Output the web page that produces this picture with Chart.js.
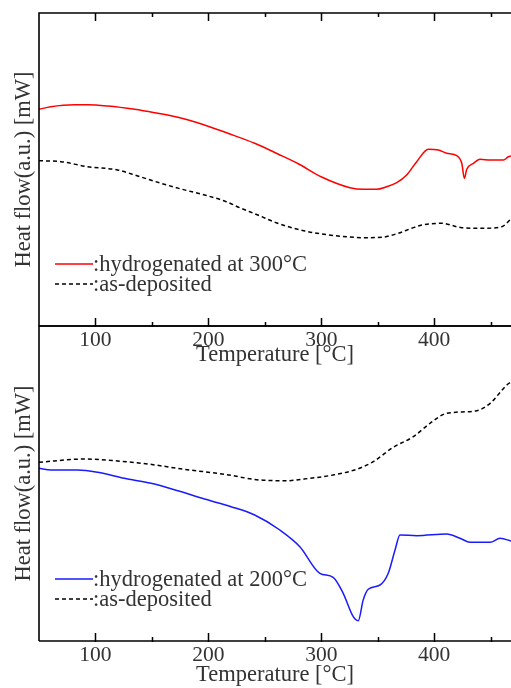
<!DOCTYPE html>
<html><head><meta charset="utf-8">
<script src="https://cdn.jsdelivr.net/npm/chart.js@4.4.1/dist/chart.umd.min.js"></script>
<style>
html,body{margin:0;padding:0;background:#fff;overflow:hidden;width:511px;height:688px}
.c{position:absolute;left:0;top:0;width:511px;height:688px}
</style></head>
<body>
<div class="c"><canvas id="topChart"></canvas></div>
<div class="c"><canvas id="botChart"></canvas></div>
<script>
// ---- data (temperature in °C, heat flow in arbitrary units) ----
const xTicks = [100, 200, 300, 400];
const xMinorTicks = [150, 250, 350, 450];

const topHydLabel = 'hydrogenated at 300°C';
const topHydT = [50,60.5,81.3,93.1,111,134.6,152.3,173,196.6,217.3,241,261.6,280,300.3,325.4,337.1,349,357.9,366.8,375.6,384.5,394.8,403.6,411.1,420,424.4,426.7,428.8,434.7,440.6,449.5,461.3,465.7,468];
const topHydV = [21.67,21.93,22.13,22.13,22.0,21.67,21.33,20.87,20.1,19.27,18.27,17.2,16.2,14.9,13.83,13.67,13.67,13.93,14.33,15.1,16.43,17.67,17.6,17.27,17.03,16.27,14.77,15.67,16.27,16.67,16.6,16.6,16.93,17.0];

const topAsLabel = 'as-deposited';
const topAsT = [50,69.4,93.1,119.7,137.4,158.1,175.8,196.6,214.3,229,243.8,260,285.5,314.8,338.7,353.5,368,380,389,406.7,424.4,442.1,459.8,468];
const topAsV = [16.53,16.43,15.93,15.6,15.0,14.27,13.7,13.1,12.5,11.77,11.1,10.33,9.5,9.0,8.83,8.87,9.27,9.77,10.1,10.27,9.83,9.77,9.93,10.7];

const botHydLabel = 'hydrogenated at 200°C';
const botHydT = [50,60.5,84.2,102,125.6,149.2,173,196.6,220.1,241,263.3,281,298.7,310.5,319.4,328.3,332.7,337.1,341.6,352,359.3,365.3,369.7,384.5,411.1,422.9,431.8,449.5,458.4,468];
const botHydV = [17.27,17.1,17.1,16.87,16.27,15.77,15.03,14.2,13.43,12.6,11.1,9.43,6.77,6.37,4.77,2.43,2.03,4.1,5.17,5.6,6.77,9.1,10.6,10.53,10.7,10.27,9.87,9.87,10.27,10.0];

const botAsLabel = 'as-deposited';
const botAsT = [50,90.2,119.7,146.3,178.8,214.3,245.6,269.2,289.9,310.5,331.3,346,363.7,381.5,396.3,411.1,437.7,449.5,464.3,468];
const botAsV = [17.87,18.2,18.0,17.7,17.17,16.67,16.1,16.03,16.27,16.6,17.17,17.93,19.37,20.43,21.77,22.77,23.03,23.77,25.6,25.9];

const xTitle = 'Temperature [°C]';
const yTitle = 'Heat flow(a.u.) [mW]';

// ---- helpers ----
const pts = (T, V) => T.map((t, i) => ({x: t, y: V[i]}));
const FONT = 'Liberation Serif, Times New Roman, serif';
const TXT = '#333';

const framePlugin = {
  id: 'frame',
  afterDraw(chart, args, opts) {
    const {ctx, chartArea: a, scales: {x}} = chart;
    ctx.save();
    ctx.strokeStyle = '#000';
    ctx.lineWidth = 1.6;
    ctx.beginPath();
    ctx.moveTo(a.left, a.bottom); ctx.lineTo(a.left, a.top); ctx.lineTo(a.right + 5, a.top);
    ctx.moveTo(a.left, a.bottom); ctx.lineTo(a.right + 5, a.bottom);
    ctx.stroke();
    ctx.lineWidth = 1.5;
    ctx.beginPath();
    const mark = (vals, len) => vals.forEach(v => {
      const px = Math.round(x.getPixelForValue(v)) + 0.5;
      if (opts.topTicks) { ctx.moveTo(px, a.top); ctx.lineTo(px, a.top + len); }
      ctx.moveTo(px, a.bottom + 1); ctx.lineTo(px, a.bottom - len);
    });
    mark(xTicks, 8);
    mark(xMinorTicks, 4);
    ctx.stroke();
    ctx.restore();
  }
};

const legendPlugin = {
  id: 'innerLegend',
  afterDraw(chart, args, opts) {
    const {ctx, chartArea: a} = chart;
    ctx.save();
    chart.data.datasets.forEach((ds, i) => {
      const y = a.bottom + opts.rows[i];
      ctx.beginPath();
      ctx.strokeStyle = ds.borderColor;
      ctx.lineWidth = ds.borderWidth;
      ctx.setLineDash(ds.borderDash || []);
      ctx.moveTo(opts.x0, y); ctx.lineTo(opts.x1, y);
      ctx.stroke();
      ctx.setLineDash([]);
      ctx.fillStyle = TXT;
      ctx.font = '22.5px ' + FONT;
      ctx.textBaseline = 'middle';
      ctx.textAlign = 'left';
      ctx.fillText(':' + ds.label, opts.x1, y + 1);
    });
    ctx.restore();
  }
};

function makeChart(id, datasets, padTop, padBottom, yMax, titlePadBottom, topTicks) {
  return new Chart(document.getElementById(id), {
    type: 'line',
    data: {datasets},
    options: {
      responsive: true, maintainAspectRatio: false, animation: false,
      layout: {padding: {top: padTop, bottom: padBottom, left: 0, right: 0}},
      elements: {point: {radius: 0}, line: {cubicInterpolationMode: 'monotone'}},
      plugins: {
        legend: {display: false}, tooltip: {enabled: false},
        frame: {topTicks},
        innerLegend: {x0: 55, x1: 93, rows: [-62, -42]}
      },
      scales: {
        x: {
          type: 'linear', min: 50, max: 468,
          afterBuildTicks: s => { s.ticks = xTicks.map(v => ({value: v})); },
          afterFit: s => { s.height = 47; },
          grid: {display: false, drawTicks: false},
          border: {display: false},
          ticks: {font: {family: FONT, size: 21.5}, color: TXT, padding: 1, maxRotation: 0},
          title: {display: true, text: xTitle, font: {family: FONT, size: 22.5}, color: TXT,
                  padding: {top: 0, bottom: titlePadBottom}}
        },
        y: {
          min: 0, max: yMax,
          afterFit: s => { s.width = 39; },
          ticks: {display: false},
          grid: {display: false, drawTicks: false},
          border: {display: false},
          title: {display: true, text: yTitle, font: {family: FONT, size: 22.5}, color: TXT,
                  padding: {top: 11, bottom: 0}}
        }
      }
    },
    plugins: [framePlugin, legendPlugin]
  });
}

makeChart('topChart', [
  {label: topHydLabel, data: pts(topHydT, topHydV), borderColor: '#ff0000', borderWidth: 1.5, fill: false},
  {label: topAsLabel, data: pts(topAsT, topAsV), borderColor: '#000000', borderWidth: 1.5, borderDash: [4, 3], fill: false}
], 13, 315, 31.3, 4, true);

makeChart('botChart', [
  {label: botHydLabel, data: pts(botHydT, botHydV), borderColor: '#1a1aff', borderWidth: 1.5, fill: false},
  {label: botAsLabel, data: pts(botAsT, botAsV), borderColor: '#000000', borderWidth: 1.5, borderDash: [4, 3], fill: false}
], 326, 0, 31.5, -1, false);
</script>
</body></html>
